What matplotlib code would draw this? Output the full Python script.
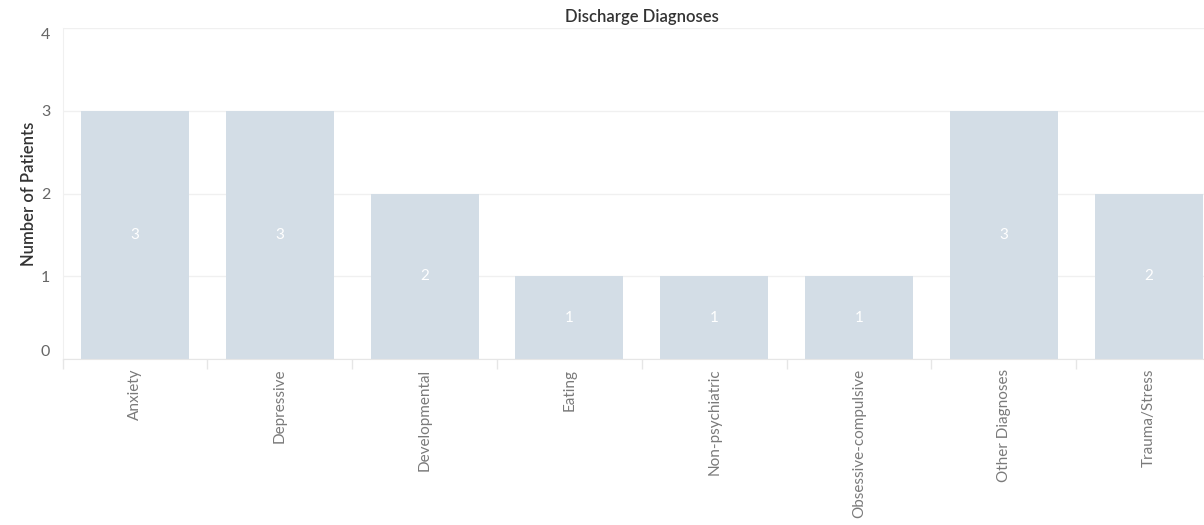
import matplotlib
matplotlib.use("Agg")
import matplotlib.pyplot as plt
import numpy as np

categories = ["Anxiety", "Depressive", "Developmental", "Eating", "Non-psychiatric",
              "Obsessive-compulsive", "Other Diagnoses", "Trauma/Stress"]
patients = [3, 3, 2, 1, 1, 1, 3, 2]
y_ticks = [0, 1, 2, 3, 4]

plt.rcParams['font.family'] = ['Lato', 'DejaVu Sans']

fig = plt.figure(figsize=(12.04, 5.25), dpi=100)
left = 62.6 / 1204
right = 1221 / 1204
bottom = (525 - 359) / 525
top = (525 - 28) / 525
ax = fig.add_axes([left, bottom, right - left, top - bottom])

x = np.arange(len(categories))
bars = ax.bar(x, patients, width=0.746, color="#d3dde6", zorder=2)
for xi, v in zip(x, patients):
    ax.text(xi, v / 2, str(v), ha="center", va="center", color="white",
            fontsize=11, zorder=3)

ax.set_xlim(-0.5, len(categories) - 0.5)
ax.set_ylim(0, 4)
ax.set_yticks(y_ticks)
ax.set_yticklabels([str(t) for t in y_ticks])
ax.set_xticks(x)
ax.set_xticklabels(categories, rotation=90, color="#7a7a7a", fontsize=11)
ax.set_xticks(np.arange(-0.5, len(categories), 1), minor=True)
ax.tick_params(axis="x", which="major", length=0, pad=7)
ax.tick_params(axis="x", which="minor", length=7, color="#e6e6e6", width=1)
ax.tick_params(axis="y", length=0, pad=9, labelcolor="#666666", labelsize=11.5)

ylabels = ax.get_yticklabels()
ylabels[0].set_va("bottom")
ylabels[-1].set_va("top")

ax.grid(axis="y", color="#f0f0f0", linewidth=1, zorder=0)
for s in ["top", "right"]:
    ax.spines[s].set_visible(False)
ax.spines["left"].set_color("#f0f0f0")
ax.spines["bottom"].set_color("#e6e6e6")

ax.set_ylabel("Number of Patients", fontsize=12, color="#333333",
              fontweight="semibold", labelpad=3)
ax.set_title("Discharge Diagnoses", fontsize=12, color="#333333",
             fontweight="semibold", pad=4)

fig.savefig("out.png", dpi=100)
